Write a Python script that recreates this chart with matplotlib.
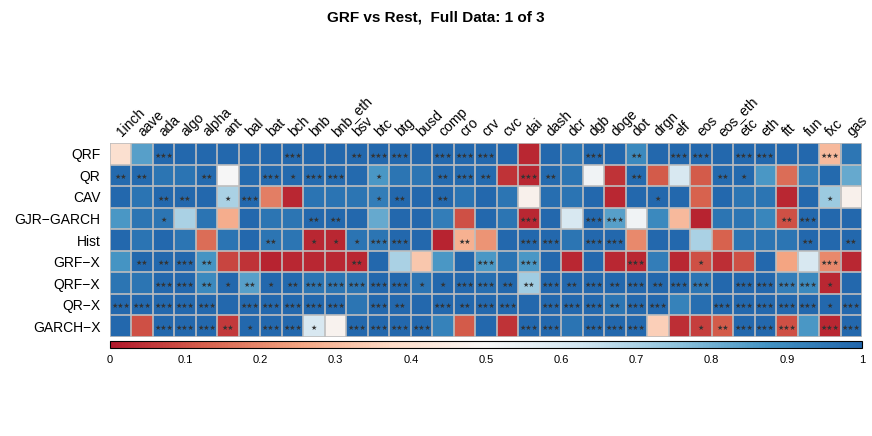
import numpy as np
import matplotlib
matplotlib.use("Agg")
import matplotlib.pyplot as plt
from matplotlib.colors import LinearSegmentedColormap

plt.rcParams['font.family'] = ['Liberation Sans', 'DejaVu Sans']

coins = ["1inch", "aave", "ada", "algo", "alpha", "ant", "bal", "bat", "bch", "bnb",
         "bnb_eth", "bsv", "btc", "btg", "busd", "comp", "cro", "crv", "cvc", "dai",
         "dash", "dcr", "dgb", "doge", "dot", "drgn", "elf", "eos", "eos_eth", "etc",
         "eth", "ftt", "fun", "fxc", "gas"]
models = ["QRF", "QR", "CAV", "GJR\u2212GARCH", "Hist", "GRF\u2212X", "QRF\u2212X", "QR\u2212X", "GARCH\u2212X"]

# values per model (row), one per coin
qrf = [0.40, 0.84, 0.99, 0.99, 0.99, 0.99, 0.99, 0.99, 0.99, 0.99, 0.99, 0.99, 0.99, 0.99, 0.99, 0.99, 0.99, 0.99,
       0.99, 0.03, 0.99, 0.96, 0.99, 0.99, 0.90, 0.99, 0.99, 0.99, 0.99, 0.99, 0.99, 0.99, 0.99, 0.30, 0.95]
qr = [0.985, 0.985, 0.955, 0.96, 0.985, 0.50, 0.985, 0.985, 0.985, 0.985, 0.985, 0.985, 0.86, 0.955, 0.955, 0.985, 0.985, 0.985,
      0.05, 0.03, 0.985, 0.955, 0.52, 0.05, 0.985, 0.12, 0.60, 0.12, 0.985, 0.985, 0.86, 0.15, 0.93, 0.985, 0.82]
cav = [0.99, 0.96, 0.99, 0.99, 0.99, 0.70, 0.99, 0.18, 0.03, 0.96, 0.96, 0.955, 0.93, 0.99, 0.99, 0.99, 0.96, 0.99,
       0.955, 0.47, 0.975, 0.96, 0.99, 0.03, 0.99, 0.99, 0.99, 0.13, 0.99, 0.955, 0.955, 0.03, 0.99, 0.73, 0.47]
gjr = [0.86, 0.955, 0.955, 0.70, 0.96, 0.27, 0.99, 0.955, 0.955, 0.99, 0.99, 0.99, 0.82, 0.99, 0.99, 0.93, 0.10, 0.99,
       0.955, 0.03, 0.99, 0.60, 0.99, 0.84, 0.52, 0.90, 0.30, 0.02, 0.955, 0.955, 0.91, 0.10, 0.99, 0.99, 0.99]
hist = [0.99, 0.96, 0.99, 0.955, 0.15, 0.96, 0.99, 0.955, 0.955, 0.03, 0.03, 0.96, 0.955, 0.99, 0.99, 0.02, 0.28, 0.22,
        0.99, 0.99, 0.99, 0.955, 0.99, 0.99, 0.20, 0.99, 0.99, 0.70, 0.13, 0.955, 0.955, 0.955, 0.99, 0.99, 0.99]
grfx = [0.87, 0.99, 0.99, 0.99, 0.87, 0.08, 0.05, 0.02, 0.03, 0.03, 0.03, 0.03, 0.99, 0.70, 0.33, 0.86, 0.99, 0.86,
        0.96, 0.86, 0.99, 0.03, 0.99, 0.03, 0.03, 0.93, 0.03, 0.10, 0.04, 0.10, 0.99, 0.25, 0.60, 0.20, 0.03]
qrfx = [0.955, 0.955, 0.99, 0.99, 0.90, 0.99, 0.84, 0.99, 0.985, 0.955, 0.955, 0.955, 0.99, 0.99, 0.96, 0.99, 0.99, 0.975,
        0.99, 0.72, 0.99, 0.99, 0.99, 0.99, 0.99, 0.99, 0.99, 0.955, 0.99, 0.99, 0.99, 0.93, 0.90, 0.03, 0.99]
qrx = [0.99, 0.99, 0.99, 0.99, 0.99, 0.99, 0.99, 0.99, 0.99, 0.99, 0.99, 0.955, 0.99, 0.99, 0.99, 0.99, 0.99, 0.99,
       0.99, 0.99, 0.99, 0.99, 0.99, 0.955, 0.99, 0.99, 0.92, 0.975, 0.99, 0.99, 0.99, 0.99, 0.99, 0.99, 0.99]
garchx = [0.99, 0.10, 0.99, 0.99, 0.99, 0.06, 0.99, 0.99, 0.99, 0.60, 0.48, 0.99, 0.99, 0.99, 0.99, 0.92, 0.12, 0.99,
          0.05, 0.99, 0.99, 0.96, 0.99, 0.99, 0.99, 0.35, 0.04, 0.07, 0.12, 0.99, 0.99, 0.10, 0.86, 0.03, 0.99]

# significance stars per model
s_qrf = ["", "", "***", "", "", "", "", "", "***", "", "", "**", "***", "***", "", "***", "***", "***",
         "", "", "", "", "***", "", "**", "", "***", "***", "", "***", "***", "", "", "***", ""]
s_qr = ["**", "**", "", "", "**", "", "", "***", "*", "***", "***", "", "*", "", "", "**", "***", "**",
        "", "***", "**", "", "", "", "**", "", "", "", "**", "*", "", "", "", "", ""]
s_cav = ["", "", "**", "**", "", "*", "***", "", "", "", "", "", "*", "**", "", "**", "", "",
         "", "", "", "", "", "", "", "*", "", "", "", "", "", "", "", "*", ""]
s_gjr = ["", "", "*", "", "", "", "", "", "", "**", "**", "", "", "", "", "", "", "",
         "", "***", "", "", "***", "***", "", "", "", "", "", "", "", "**", "***", "", ""]
s_hist = ["", "", "", "", "", "", "", "**", "", "*", "*", "*", "***", "***", "", "", "**", "",
          "", "***", "***", "", "***", "***", "", "", "", "", "", "", "", "", "**", "", "**"]
s_grfx = ["", "**", "**", "***", "**", "", "", "", "", "", "", "**", "", "", "", "", "", "***",
          "", "***", "", "", "", "", "***", "", "", "*", "", "", "", "", "", "***", ""]
s_qrfx = ["", "", "***", "***", "**", "*", "**", "*", "**", "***", "***", "***", "***", "***", "*", "*", "***", "***",
          "**", "**", "***", "**", "***", "**", "***", "**", "***", "***", "", "***", "***", "***", "***", "*", ""]
s_qrx = ["***", "***", "***", "***", "***", "", "***", "***", "***", "***", "***", "", "***", "**", "", "***", "**", "***",
         "***", "", "***", "***", "***", "**", "***", "***", "", "", "***", "***", "***", "***", "***", "*", "***"]
s_garchx = ["", "", "***", "***", "***", "**", "*", "***", "***", "*", "", "***", "***", "***", "***", "", "", "",
            "", "***", "***", "", "***", "***", "***", "", "", "*", "**", "***", "***", "***", "", "***", "***"]

vals = np.array([qrf, qr, cav, gjr, hist, grfx, qrfx, qrx, garchx])
stars = [s_qrf, s_qr, s_cav, s_gjr, s_hist, s_grfx, s_qrfx, s_qrx, s_garchx]

cmap = LinearSegmentedColormap.from_list("rdbu", ["#B2182B", "#D6604D", "#F4A582", "#FDDBC7", "#F7F7F7",
                                                  "#D1E5F0", "#92C5DE", "#4393C3", "#2166AC"])

W, H = 872, 436
fig = plt.figure(figsize=(W / 100, H / 100), dpi=100)
ax = fig.add_axes([110 / W, 1 - 337 / H, 752 / W, 194 / H])
im = ax.imshow(vals, cmap=cmap, vmin=0, vmax=1, aspect='auto', interpolation='nearest')

nr, nc = vals.shape
for i in range(nr + 1):
    ax.axhline(i - 0.5, color='#BEBEBE', lw=1.2)
for j in range(nc + 1):
    ax.axvline(j - 0.5, color='#BEBEBE', lw=1.2)
for s in ax.spines.values():
    s.set_visible(False)

for i in range(nr):
    for j in range(nc):
        if stars[i][j]:
            ax.text(j, i + 0.08, stars[i][j].replace("*", "\u2605"), ha='center', va='center',
                    fontsize=5, color='#333333', family=['DejaVu Sans'])

ax.set_xticks([])
ax.set_yticks(range(nr))
ax.set_yticklabels(models, fontsize=10)
ax.tick_params(axis='y', length=0, pad=7)
for j, c in enumerate(coins):
    ax.text(j + 0.15, -0.7, c, rotation=45, rotation_mode='anchor', ha='left', va='bottom', fontsize=10)

cax = fig.add_axes([110 / W, 1 - 348 / H, 752 / W, 7 / H])
cb = fig.colorbar(im, cax=cax, orientation='horizontal')
cb.set_ticks(np.arange(0, 1.01, 0.1))
cb.set_ticklabels(["0", "0.1", "0.2", "0.3", "0.4", "0.5", "0.6", "0.7", "0.8", "0.9", "1"])
cax.tick_params(length=0, labelsize=8, pad=5)
cb.outline.set_linewidth(0.8)

fig.text(0.5, 1 - 18 / H, "GRF vs Rest,  Full Data: 1 of 3", ha='center', va='center',
         fontsize=11, fontweight='bold')

fig.savefig("out.png", dpi=100)
